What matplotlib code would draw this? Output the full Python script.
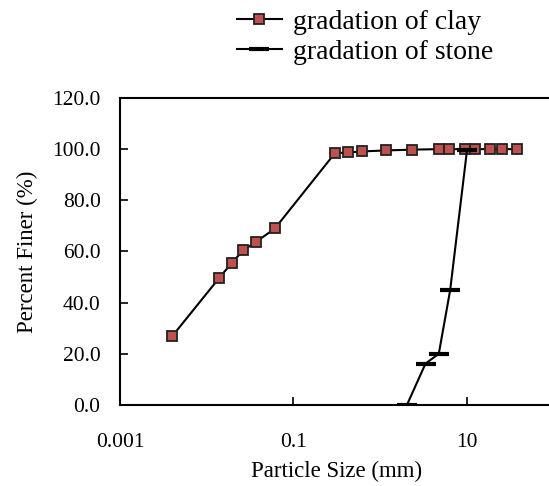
import matplotlib
matplotlib.use("Agg")
import matplotlib.pyplot as plt

clay_size = [0.004, 0.0138, 0.0195, 0.0264, 0.0373, 0.061, 0.30, 0.43, 0.61, 1.17, 2.31, 4.75, 6.2, 9.5, 12.4, 18.5, 25.3, 37.4]
clay_pct = [26.9, 49.5, 55.6, 60.5, 63.8, 69.0, 98.4, 98.7, 99.1, 99.5, 99.8, 100, 100, 100, 100, 100, 100, 100]
stone_size = [2.03, 3.33, 4.73, 6.4, 10.0]
stone_pct = [0.0, 16.2, 20.0, 44.9, 99.5]
xticks = [0.001, 0.1, 10]
xticklabels = ["0.001", "0.1", "10"]
yticks = [0, 20, 40, 60, 80, 100, 120]

plt.rcParams['font.family'] = ['Liberation Serif', 'DejaVu Serif']

fig = plt.figure(figsize=(5.49, 4.86), dpi=100)
ax = fig.add_axes([0.2186, 0.1667, 0.79, 0.6317])

l1, = ax.plot(clay_size, clay_pct, color='black', lw=1.5, marker='s', markersize=7.5,
              markerfacecolor='#C0504D', markeredgecolor='#222222', markeredgewidth=1.3,
              label='gradation of clay')
l2, = ax.plot(stone_size, stone_pct, color='black', lw=1.5, marker='_', markersize=15,
              markeredgewidth=3, label='gradation of stone')

ax.set_xscale('log')
ax.set_xlim(0.001, 100)
ax.set_ylim(0, 120)
ax.set_xticks(xticks)
ax.set_xticklabels(xticklabels)
ax.xaxis.set_minor_locator(matplotlib.ticker.NullLocator())
ax.set_yticks(yticks)
ax.set_yticklabels([f"{v:.1f}" for v in yticks])
ax.tick_params(direction='in', length=6, width=1.2, labelsize=15.5)
ax.tick_params(axis='y', pad=14)
ax.tick_params(axis='x', pad=20)
for s in ax.spines.values():
    s.set_linewidth(1.5)

ax.set_xlabel('Particle Size (mm)', fontsize=16.5, labelpad=6.5)
ax.set_ylabel('Percent Finer (%)', fontsize=16.5, labelpad=10)

fig.legend(handles=[l1, l2], loc='upper left', bbox_to_anchor=(0.411, 1.004),
           frameon=False, fontsize=20, handlelength=1.62, handletextpad=0.4,
           labelspacing=0.18, borderaxespad=0.0)

fig.savefig('out.png', dpi=100)
